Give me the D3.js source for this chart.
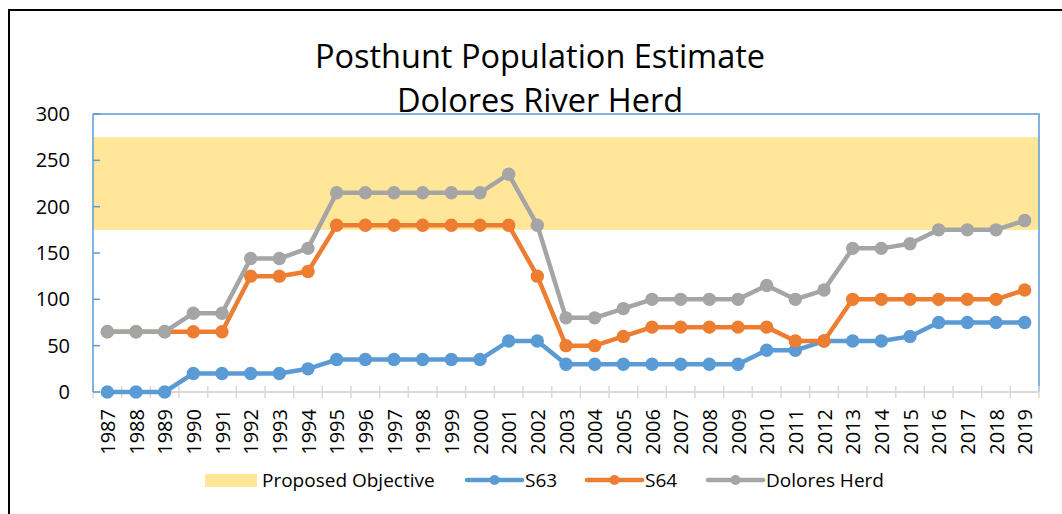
<!DOCTYPE html>
<html>
<head>
<meta charset="utf-8">
<script src="https://cdn.jsdelivr.net/npm/d3@7"></script>
<style>
  html, body { margin: 0; padding: 0; background: #fff; }
  svg text { font-family: "Open Sans", sans-serif; fill: #000; }
</style>
</head>
<body>
<div id="chart"></div>
<script>
// chart data
const years = d3.range(1987, 2020).map(String);
const s63 = [0, 0, 0, 20, 20, 20, 20, 25, 35, 35, 35, 35, 35, 35, 55, 55, 30, 30, 30, 30, 30, 30, 30, 45, 45, 55, 55, 55, 60, 75, 75, 75, 75];
const s64 = [65, 65, 65, 65, 65, 125, 125, 130, 180, 180, 180, 180, 180, 180, 180, 125, 50, 50, 60, 70, 70, 70, 70, 70, 55, 55, 100, 100, 100, 100, 100, 100, 110];
const dolores = [65, 65, 65, 85, 85, 144, 144, 155, 215, 215, 215, 215, 215, 215, 235, 180, 80, 80, 90, 100, 100, 100, 100, 115, 100, 110, 155, 155, 160, 175, 175, 175, 185];
const objective = [175, 275];
const yTicks = [0, 50, 100, 150, 200, 250, 300];
const titleLines = ['Posthunt Population Estimate', 'Dolores River Herd'];

const series = [
  { name: 'S63', values: s63, color: '#5B9BD5' },
  { name: 'S64', values: s64, color: '#ED7D31' },
  { name: 'Dolores Herd', values: dolores, color: '#A5A5A5' }
];

const width = 1062, height = 514;
const plot = { left: 93, right: 1039, top: 114, bottom: 392 };

const svg = d3.select('#chart').append('svg')
  .attr('width', width)
  .attr('height', height);

// outer frame (runs off the right and bottom edges)
svg.append('rect')
  .attr('x', 9).attr('y', 10)
  .attr('width', 1070).attr('height', 520)
  .attr('fill', '#fff')
  .attr('stroke', '#000')
  .attr('stroke-width', 2);

const x = d3.scaleBand().domain(years).range([plot.left, plot.right]);
const y = d3.scaleLinear().domain([0, 300]).range([plot.bottom, plot.top]);
const cx = d => x(d) + x.bandwidth() / 2;

// title
svg.append('g').selectAll('text')
  .data(titleLines)
  .enter().append('text')
  .attr('x', 540)
  .attr('y', (d, i) => 68 + i * 44)
  .attr('text-anchor', 'middle')
  .style('font-size', '32.5px')
  .text(d => d);

// proposed objective band
svg.append('rect')
  .attr('x', plot.left)
  .attr('y', y(objective[1]))
  .attr('width', plot.right - plot.left)
  .attr('height', y(objective[0]) - y(objective[1]))
  .attr('fill', '#FFE699');

// plot frame (top + right)
svg.append('path')
  .attr('d', `M${plot.left},${plot.top}H${plot.right}V${plot.bottom}`)
  .attr('fill', 'none')
  .attr('stroke', '#5B9BD5')
  .attr('stroke-width', 1.5);

// x axis: gray line with category boundary ticks
const xAxis = svg.append('g');
xAxis.append('line')
  .attr('x1', plot.left).attr('x2', plot.right)
  .attr('y1', plot.bottom).attr('y2', plot.bottom)
  .attr('stroke', '#D9D9D9').attr('stroke-width', 2);
xAxis.selectAll('line.tick')
  .data(years.concat(['end']))
  .enter().append('line')
  .attr('class', 'tick')
  .attr('x1', d => d === 'end' ? plot.right : x(d))
  .attr('x2', d => d === 'end' ? plot.right : x(d))
  .attr('y1', plot.bottom - 6).attr('y2', plot.bottom + 6)
  .attr('stroke', '#D9D9D9').attr('stroke-width', 1.5);
xAxis.selectAll('text')
  .data(years)
  .enter().append('text')
  .attr('transform', d => `translate(${cx(d) + 7.5},${plot.bottom + 17}) rotate(-90)`)
  .attr('text-anchor', 'end')
  .style('font-size', '20px')
  .text(d => d);

// y axis: blue line with inward ticks
const yAxis = svg.append('g');
yAxis.append('line')
  .attr('x1', plot.left).attr('x2', plot.left)
  .attr('y1', plot.top).attr('y2', plot.bottom)
  .attr('stroke', '#5B9BD5').attr('stroke-width', 1.5);
yAxis.selectAll('line.tick')
  .data(yTicks)
  .enter().append('line')
  .attr('class', 'tick')
  .attr('x1', plot.left).attr('x2', plot.left + 7)
  .attr('y1', d => y(d)).attr('y2', d => y(d))
  .attr('stroke', '#5B9BD5').attr('stroke-width', 1.5);
yAxis.selectAll('text')
  .data(yTicks)
  .enter().append('text')
  .attr('x', 70)
  .attr('y', d => y(d) + 7)
  .attr('text-anchor', 'end')
  .style('font-size', '20px')
  .text(d => d);

// series lines + markers
const line = d3.line()
  .x((d, i) => cx(years[i]))
  .y(d => y(d));

series.forEach(s => {
  const g = svg.append('g');
  g.append('path')
    .datum(s.values)
    .attr('d', line)
    .attr('fill', 'none')
    .attr('stroke', s.color)
    .attr('stroke-width', 4.5)
    .attr('stroke-linejoin', 'round');
  g.selectAll('circle')
    .data(s.values)
    .enter().append('circle')
    .attr('cx', (d, i) => cx(years[i]))
    .attr('cy', d => y(d))
    .attr('r', 6.7)
    .attr('fill', s.color);
});

// legend
const legend = svg.append('g');
legend.append('rect')
  .attr('x', 205).attr('y', 474)
  .attr('width', 52).attr('height', 13)
  .attr('fill', '#FFE699');
legend.append('text')
  .attr('x', 262).attr('y', 487)
  .style('font-size', '19px')
  .text('Proposed Objective');

const legendX = [467, 587, 708];
series.forEach((s, i) => {
  const lx = legendX[i];
  legend.append('line')
    .attr('x1', lx).attr('x2', lx + 55)
    .attr('y1', 480).attr('y2', 480)
    .attr('stroke', s.color).attr('stroke-width', 4.5)
    .attr('stroke-linecap', 'round');
  legend.append('circle')
    .attr('cx', lx + 27.5).attr('cy', 480)
    .attr('r', 5).attr('fill', s.color);
  legend.append('text')
    .attr('x', lx + 58).attr('y', 487)
    .style('font-size', '19px')
    .text(s.name);
});
</script>
</body>
</html>
